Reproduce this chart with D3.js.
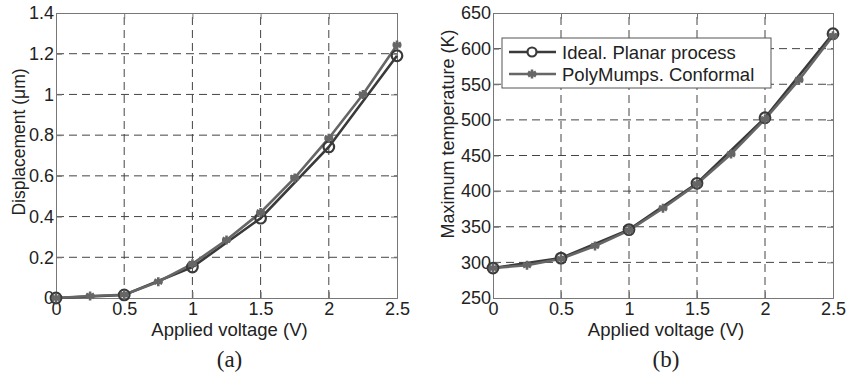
<!DOCTYPE html>
<html>
<head>
<meta charset="utf-8">
<script src="https://cdn.jsdelivr.net/npm/d3@7"></script>
<style>
  body { margin: 0; background: #fff; }
  text { font-family: "Liberation Sans", Arial, sans-serif; fill: #222; }
</style>
</head>
<body>
<script>
// data
var voltsIdeal = [0, 0.5, 1, 1.5, 2, 2.5];
var voltsPoly = [0, 0.25, 0.5, 0.75, 1, 1.25, 1.5, 1.75, 2, 2.25, 2.5];

var dispIdeal = [0, 0.015, 0.152, 0.392, 0.742, 1.19];
var dispPoly = [0, 0.01, 0.016, 0.08, 0.168, 0.285, 0.42, 0.59, 0.785, 1.0, 1.243];

var tempIdeal = [292, 306, 346, 411, 503, 621];
var tempPoly = [292, 296, 305, 323, 345, 376, 410, 452, 501, 556, 618];

var xTicks = [0, 0.5, 1, 1.5, 2, 2.5];
var dispTicks = [0, 0.2, 0.4, 0.6, 0.8, 1, 1.2, 1.4];
var tempTicks = [250, 300, 350, 400, 450, 500, 550, 600, 650];

var seriesNames = ["Ideal. Planar process", "PolyMumps. Conformal"];

var svg = d3.select("body").append("svg")
  .attr("width", 846)
  .attr("height", 377);

var idealColor = "#3a3a3a";
var polyColor = "#666";

function star(g, cx, cy) {
  var r = 4.5;
  var p = "";
  [0, 60, 120].forEach(function(a) {
    var t = a * Math.PI / 180;
    p += "M" + (cx - r * Math.sin(t)) + "," + (cy - r * Math.cos(t)) +
         "L" + (cx + r * Math.sin(t)) + "," + (cy + r * Math.cos(t));
  });
  p += "M" + (cx - r) + "," + cy + "L" + (cx + r) + "," + cy;
  g.append("path").attr("d", p)
    .style("stroke", polyColor).style("stroke-width", 2.6).style("fill", "none");
}

function panel(opt) {
  var x = d3.scaleLinear().domain([0, 2.5]).range([opt.left, opt.right]);
  var y = d3.scaleLinear().domain(opt.ydom).range([298, 13]);
  var g = svg.append("g");

  // grid
  g.selectAll(".vg").data(xTicks.slice(1, -1)).enter().append("line")
    .attr("x1", function(d) { return x(d); }).attr("x2", function(d) { return x(d); })
    .attr("y1", y.range()[0]).attr("y2", y.range()[1])
    .style("stroke", "#444").style("stroke-width", 1).style("stroke-dasharray", "8,5");
  g.selectAll(".hg").data(opt.yticks.slice(1, -1)).enter().append("line")
    .attr("y1", function(d) { return y(d); }).attr("y2", function(d) { return y(d); })
    .attr("x1", opt.left).attr("x2", opt.right)
    .style("stroke", "#444").style("stroke-width", 1).style("stroke-dasharray", "8,5");

  // axes
  g.append("g").attr("transform", "translate(0,298)")
    .call(d3.axisBottom(x).tickValues(xTicks).tickSize(-6).tickPadding(4)
      .tickFormat(d3.format("")));
  g.append("g").attr("transform", "translate(" + opt.left + ",0)")
    .call(d3.axisLeft(y).tickValues(opt.yticks).tickSize(-6).tickPadding(2)
      .tickFormat(opt.fmt));
  g.append("g").attr("transform", "translate(0,13)")
    .call(d3.axisTop(x).tickValues(xTicks).tickSize(-6).tickFormat(""));
  g.append("g").attr("transform", "translate(" + opt.right + ",0)")
    .call(d3.axisRight(y).tickValues(opt.yticks).tickSize(-6).tickFormat(""));
  g.selectAll(".domain").style("stroke", "#777").style("stroke-width", 1);
  g.selectAll(".tick line").style("stroke", "#777");
  g.selectAll(".tick text").style("font-size", "18px").style("fill", "#222")
    .style("font-family", "Liberation Sans, Arial, sans-serif");

  // lines
  var line = d3.line().x(function(d) { return x(d[0]); }).y(function(d) { return y(d[1]); });
  var ideal = d3.zip(voltsIdeal, opt.ideal);
  var poly = d3.zip(voltsPoly, opt.poly);
  g.append("path").datum(ideal).attr("d", line)
    .style("fill", "none").style("stroke", idealColor).style("stroke-width", 2.6);
  g.append("path").datum(poly).attr("d", line)
    .style("fill", "none").style("stroke", polyColor).style("stroke-width", 2.6);
  g.selectAll(".c").data(ideal).enter().append("circle")
    .attr("cx", function(d) { return x(d[0]); }).attr("cy", function(d) { return y(d[1]); })
    .attr("r", 5.3).style("fill", "none").style("stroke", idealColor).style("stroke-width", 2.2);
  poly.forEach(function(d) { star(g, x(d[0]), y(d[1])); });

  // labels
  g.append("text").attr("x", (opt.left + opt.right) / 2 + 3).attr("y", 336)
    .attr("text-anchor", "middle").style("font-size", "18.5px").text("Applied voltage (V)");
  g.append("text").attr("transform", "translate(" + opt.ylx + "," + opt.yly + ") rotate(-90)")
    .attr("text-anchor", "middle").style("font-size", opt.ylfs).text(opt.ylabel);
  g.append("text").attr("x", (opt.left + opt.right) / 2 + 3).attr("y", 367)
    .attr("text-anchor", "middle").style("font-size", "23px")
    .style("font-family", "Liberation Serif, Times New Roman, serif").text(opt.tag);
  return { x: x, y: y, g: g };
}

panel({ left: 56, right: 397, ydom: [0, 1.4], yticks: dispTicks,
  fmt: function(d) { return d3.format("")(+d.toFixed(1)); },
  ideal: dispIdeal, poly: dispPoly, ylabel: "Displacement (\u03bcm)", ylfs: "17.5px",
  ylx: 25, yly: 142, tag: "(a)" });

var pb = panel({ left: 493, right: 833, ydom: [250, 650], yticks: tempTicks,
  fmt: d3.format(""), ideal: tempIdeal, poly: tempPoly,
  ylabel: "Maximum temperature (K)", ylfs: "18px", ylx: 454, yly: 134, tag: "(b)" });

// legend
var lg = pb.g.append("g");
lg.append("rect").attr("x", 502).attr("y", 38).attr("width", 269).attr("height", 50)
  .style("fill", "#fff").style("stroke", "#555").style("stroke-width", 1);
seriesNames.forEach(function(name, i) {
  var yy = 52 + i * 22;
  lg.append("line").attr("x1", 509).attr("x2", 556).attr("y1", yy).attr("y2", yy)
    .style("stroke", i === 0 ? idealColor : polyColor).style("stroke-width", 2.6);
  if (i === 0) {
    lg.append("circle").attr("cx", 532).attr("cy", yy).attr("r", 4.5)
      .style("fill", "#fff").style("stroke", idealColor).style("stroke-width", 2.2);
  } else {
    star(lg, 532, yy);
  }
  lg.append("text").attr("x", 562).attr("y", yy + 6.5).style("font-size", "18.5px").text(name);
});
</script>
</body>
</html>
